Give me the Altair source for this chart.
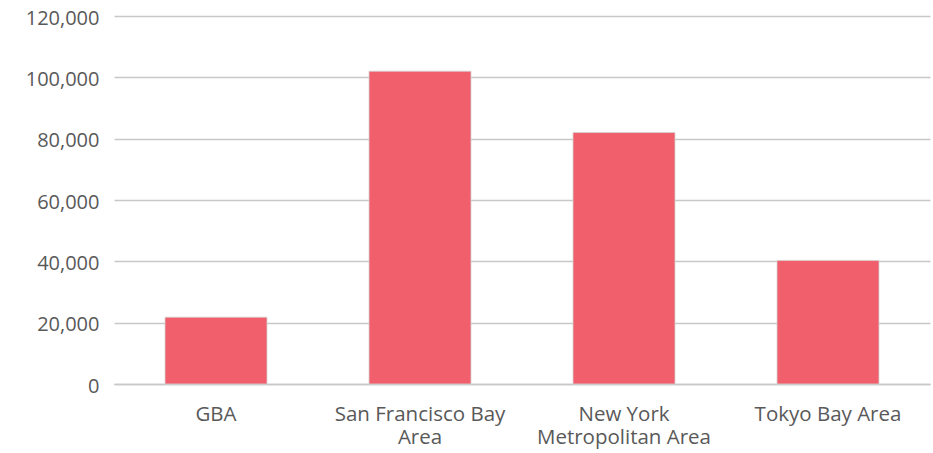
import altair as alt
import pandas as pd

# Categories and their values
regions = ["GBA", "San Francisco Bay Area", "New York Metropolitan Area", "Tokyo Bay Area"]
values = [21800, 102000, 82000, 40300]

# How each category label is broken over lines on the x axis
label_lines = [
    ["GBA"],
    ["San Francisco Bay", "Area"],
    ["New York", "Metropolitan Area"],
    ["Tokyo Bay Area"],
]

# Y axis tick values
y_ticks = [0, 20000, 40000, 60000, 80000, 100000, 120000]

df = pd.DataFrame({"region": regions, "value": values})

label_expr = " : ".join(
    f"datum.value == '{r}' ? {lines!r}" for r, lines in zip(regions, label_lines)
) + " : datum.label"

FONT = "Open Sans"
TEXT = "#595959"
LINE = "#c8c8c8"

chart = (
    alt.Chart(df)
    .mark_bar(color="#F05F6B", stroke="#d4d4d4", strokeWidth=0.8)
    .encode(
        x=alt.X(
            "region:N",
            sort=regions,
            title=None,
            scale=alt.Scale(paddingInner=0.5, paddingOuter=0.25),
            axis=alt.Axis(
                labelAngle=0,
                labelExpr=label_expr,
                labelFont=FONT,
                labelFontSize=20.5,
                labelColor=TEXT,
                labelPadding=20,
                labelLineHeight=23,
                labelBaseline="top",
                ticks=False,
                grid=False,
                domain=True,
                domainColor=LINE,
                domainWidth=1.6,
            ),
        ),
        y=alt.Y(
            "value:Q",
            title=None,
            scale=alt.Scale(domain=[0, 120000], nice=False),
            axis=alt.Axis(
                values=y_ticks,
                format=",d",
                labelFont=FONT,
                labelFontSize=20,
                labelColor=TEXT,
                labelPadding=15,
                labelOffset=2,
                ticks=False,
                domain=False,
                grid=True,
                gridColor=LINE,
                gridWidth=1.6,
            ),
        ),
    )
    .properties(
        width=816,
        height=368,
        background="white",
        autosize=alt.AutoSizeParams(type="none"),
        padding={"left": 114, "top": 16, "right": 3, "bottom": 69},
    )
    .configure_view(stroke="transparent", strokeWidth=0)
)

chart.save("out.html", embed_options={"renderer": "svg", "actions": False})
